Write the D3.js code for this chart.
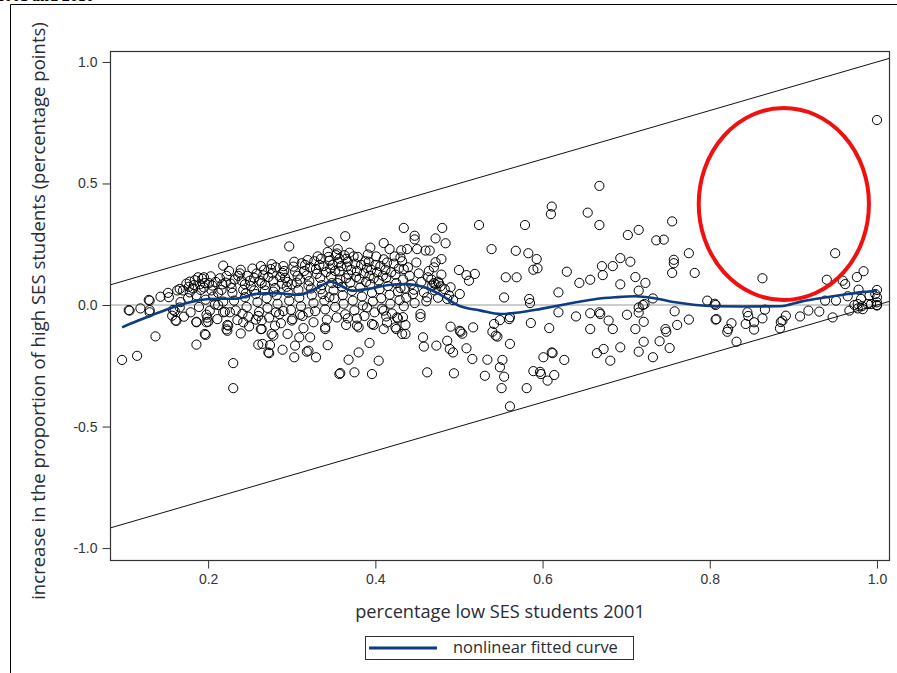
<!DOCTYPE html>
<html>
<head>
<meta charset="utf-8">
<script src="https://cdn.jsdelivr.net/npm/d3@7"></script>
<style>
    body { margin: 0; background: #fff; }
    svg { display: block; }
</style>
</head>
<body>
<div id="chart"></div>
<script>
// tick labels
var xTicks = [0.2, 0.4, 0.6, 0.8, 1.0];
var yTicks = [-1.0, -0.5, 0.0, 0.5, 1.0];

// nonlinear fitted curve
var curveX = [0.097, 0.115, 0.131, 0.154, 0.178, 0.202, 0.234, 0.256, 0.28, 0.308, 0.328, 0.347, 0.36, 0.372,
    0.396, 0.416, 0.436, 0.458, 0.478, 0.5, 0.526, 0.55, 0.574, 0.598, 0.62, 0.64, 0.664, 0.687, 0.711, 0.735,
    0.759, 0.783, 0.807, 0.84, 0.885, 0.909, 0.94, 0.965, 0.985, 1.0];
var curveY = [-0.092, -0.066, -0.044, -0.014, 0.011, 0.025, 0.026, 0.045, 0.049, 0.042, 0.066, 0.096, 0.077, 0.059,
    0.069, 0.082, 0.086, 0.074, 0.042, -0.003, -0.023, -0.037, -0.03, -0.016, -0.002, 0.011, 0.025, 0.032, 0.036, 0.027,
    0.011, 0.0, -0.005, -0.006, -0.005, 0.014, 0.032, 0.045, 0.054, 0.059];

// schools: [percentage low SES 2001, increase in high SES share]
var schools = [
    // right side
    [1.0, 0.761], [0.668, 0.49], [0.611, 0.405], [0.610, 0.374], [0.654, 0.38], [0.668, 0.329], [0.579, 0.329],
    [0.524, 0.329], [0.755, 0.344], [0.702, 0.288], [0.715, 0.309], [0.736, 0.266], [0.745, 0.269], [0.539, 0.23],
    [0.568, 0.223], [0.583, 0.213], [0.593, 0.189], [0.594, 0.151], [0.589, 0.145], [0.629, 0.137], [0.556, 0.114],
    [0.569, 0.114], [0.671, 0.16], [0.684, 0.16], [0.693, 0.193], [0.705, 0.178], [0.672, 0.123], [0.644, 0.091],
    [0.657, 0.104], [0.693, 0.085], [0.711, 0.115], [0.723, 0.091], [0.715, 0.059], [0.757, 0.186], [0.757, 0.172],
    [0.755, 0.132], [0.775, 0.213], [0.782, 0.132], [0.619, 0.052], [0.554, 0.031], [0.584, 0.025], [0.585, 0.008],
    [0.732, 0.027], [0.722, 0.004], [0.797, 0.018], [0.807, 0.0], [0.806, 0.005], [0.863, 0.11], [0.950, 0.213],
    [0.940, 0.104], [0.959, 0.10], [0.962, 0.086], [0.976, 0.115], [0.984, 0.139], [0.978, 0.063], [1.0, 0.062],
    [0.938, 0.018], [0.951, 0.018], [0.965, 0.036], [0.981, 0.025], [0.991, 0.038], [1.0, 0.032], [1.0, 0.011],
    [1.0, 0.0], [0.998, 0.045], [0.989, 0.004], [0.977, 0.004],
    [0.967, -0.023], [0.977, -0.014], [0.982, -0.005], [0.993, 0.004], [1.0, -0.002], [0.983, -0.017], [0.973, 0.0],
    [0.947, -0.051], [0.931, -0.027], [0.918, -0.023], [0.908, -0.047], [0.891, -0.044], [0.887, -0.064],
    [0.885, -0.07], [0.884, -0.096], [0.863, -0.055], [0.866, -0.019], [0.853, -0.071], [0.853, -0.101],
    [0.845, -0.03], [0.846, -0.045], [0.843, -0.078], [0.832, -0.151], [0.826, -0.075], [0.822, -0.099],
    [0.821, -0.11], [0.807, -0.06], [0.808, -0.058], [0.775, -0.06], [0.761, -0.082], [0.758, -0.026],
    [0.752, -0.177], [0.747, -0.099], [0.748, -0.11], [0.74, -0.149], [0.732, -0.215], [0.721, -0.151],
    [0.721, -0.069], [0.715, -0.192], [0.711, -0.099], [0.715, -0.031], [0.715, -0.01], [0.72, 0.0], [0.701, -0.04],
    [0.693, -0.174], [0.684, -0.099], [0.681, -0.229], [0.679, -0.064], [0.673, -0.181], [0.668, -0.03],
    [0.669, -0.037], [0.665, -0.198], [0.657, -0.099], [0.657, -0.034], [0.64, -0.047], [0.626, -0.226],
    [0.619, -0.03], [0.614, -0.288], [0.612, -0.198], [0.608, -0.095], [0.606, -0.311], [0.601, -0.215],
    [0.598, -0.284], [0.589, -0.272], [0.597, -0.275], [0.586, -0.074], [0.581, -0.342], [0.561, -0.417],
    [0.561, -0.16], [0.561, -0.05], [0.554, -0.295], [0.552, -0.226], [0.551, -0.342], [0.549, -0.256],
    [0.534, -0.225], [0.531, -0.291], [0.542, -0.078], [0.544, -0.126], [0.546, -0.13], [0.549, -0.062],
    [0.54, -0.11], [0.611, -0.195], [0.56, -0.058],
    // middle
    [0.48, 0.317], [0.434, 0.317], [0.447, 0.285], [0.447, 0.27], [0.472, 0.274], [0.484, 0.254], [0.438, 0.23],
    [0.45, 0.23], [0.46, 0.224], [0.465, 0.224], [0.43, 0.196], [0.479, 0.189], [0.472, 0.176], [0.47, 0.155],
    [0.434, 0.148], [0.432, 0.18], [0.5, 0.144], [0.509, 0.123], [0.519, 0.128], [0.512, 0.1], [0.463, 0.114],
    [0.475, 0.096], [0.478, 0.077], [0.49, 0.073], [0.501, 0.045], [0.462, 0.032], [0.446, 0.063], [0.43, 0.07],
    [0.434, -0.005], [0.486, 0.025], [0.454, -0.037], [0.454, -0.05], [0.436, -0.082], [0.436, -0.119],
    [0.49, -0.089], [0.502, -0.11], [0.504, -0.118], [0.517, -0.092], [0.457, -0.133], [0.458, -0.171],
    [0.473, -0.167], [0.486, -0.147], [0.489, -0.181], [0.493, -0.195], [0.509, -0.178], [0.516, -0.222],
    [0.462, -0.277], [0.494, -0.281], [0.47, 0.09], [0.472, 0.085], [0.468, 0.08], [0.476, 0.09],
    // left, lower
    [0.097, -0.226], [0.115, -0.209], [0.137, -0.129], [0.105, -0.021], [0.119, -0.014], [0.13, -0.021],
    [0.129, 0.021], [0.143, 0.034], [0.153, 0.032], [0.157, -0.044], [0.162, -0.065], [0.16, -0.025],
    [0.166, -0.01], [0.166, 0.066], [0.178, 0.052], [0.178, 0.096], [0.188, 0.114], [0.195, 0.114],
    [0.186, -0.069], [0.2, -0.069], [0.196, -0.119], [0.186, -0.163], [0.218, 0.162], [0.224, -0.085],
    [0.222, -0.1], [0.239, -0.117], [0.23, -0.239], [0.23, -0.342], [0.26, -0.163], [0.197, -0.123],
    [0.223, -0.106], [0.264, -0.099], [0.265, -0.16], [0.276, -0.119], [0.273, -0.198], [0.289, -0.184],
    [0.295, -0.119], [0.303, -0.215], [0.304, -0.167], [0.309, -0.133], [0.32, -0.188], [0.322, -0.133],
    [0.329, -0.215], [0.34, -0.099], [0.343, -0.165], [0.357, -0.284], [0.368, -0.225], [0.375, -0.277],
    [0.38, -0.195], [0.393, -0.156], [0.396, -0.284], [0.404, -0.229], [0.41, -0.099], [0.425, -0.099],
    [0.501, -0.106], [0.433, -0.05], [0.427, -0.055], [0.414, -0.072], [0.41, -0.023], [0.396, -0.078],
    [0.39, -0.01], [0.378, -0.055], [0.378, -0.085], [0.367, -0.055], [0.354, -0.051], [0.326, -0.071],
    [0.32, -0.03], [0.31, -0.04], [0.3, -0.064], [0.29, -0.025], [0.281, -0.03], [0.264, -0.064], [0.26, -0.045],
    [0.242, -0.071], [0.241, -0.036], [0.226, -0.03], [0.218, -0.03], [0.212, 0.0], [0.202, -0.023],
    [0.198, -0.04], [0.186, -0.071], [0.198, -0.071], [0.161, -0.064], [0.106, -0.023], [0.13, 0.018],
    [0.13, -0.03], [0.297, 0.241], [0.364, 0.283], [0.345, 0.26], [0.41, 0.255], [0.394, 0.236], [0.417, 0.23],
    [0.272, -0.195], [0.274, -0.165], [0.318, -0.192], [0.34, -0.092], [0.365, -0.082], [0.358, -0.28],
    [0.398, -0.082], [0.38, -0.092], [0.413, -0.047], [0.424, -0.092], [0.426, -0.051], [0.432, -0.119],
    [0.263, -0.099], [0.278, -0.126], [0.28, -0.085], [0.257, -0.06],
    // dense core
    [0.152, 0.05], [0.158, -0.02], [0.163, 0.06], [0.167, 0.012], [0.171, -0.048], [0.174, 0.088], [0.176, 0.028],
    [0.179, -0.03], [0.182, 0.068], [0.184, 0.102], [0.186, 0.04], [0.189, -0.008], [0.191, 0.062], [0.193, 0.108],
    [0.195, 0.072], [0.197, 0.022], [0.199, -0.052], [0.201, 0.09], [0.203, 0.118], [0.205, 0.08], [0.206, 0.035],
    [0.208, 0.002], [0.211, -0.058], [0.212, 0.05], [0.214, 0.11], [0.216, 0.062], [0.218, 0.014], [0.22, -0.028],
    [0.221, 0.092], [0.223, -0.082], [0.225, 0.14], [0.227, 0.088], [0.229, 0.05], [0.231, 0.018], [0.233, -0.022],
    [0.235, -0.062], [0.236, 0.12], [0.238, 0.13], [0.24, 0.1], [0.242, 0.062], [0.244, 0.032], [0.246, -0.008],
    [0.248, -0.048], [0.249, -0.088], [0.251, 0.078], [0.253, 0.15], [0.255, 0.112], [0.257, 0.045], [0.259, 0.012],
    [0.261, -0.028], [0.263, 0.16], [0.264, 0.09], [0.266, 0.122], [0.268, 0.06], [0.27, 0.028], [0.271, -0.012],
    [0.273, -0.052], [0.275, 0.148], [0.276, 0.168], [0.278, 0.1], [0.28, 0.07], [0.282, 0.04], [0.283, 0.005],
    [0.285, -0.038], [0.287, -0.075], [0.289, 0.132], [0.29, 0.16], [0.292, 0.112], [0.294, 0.075], [0.296, 0.05],
    [0.297, 0.018], [0.299, -0.02], [0.301, -0.058], [0.303, 0.178], [0.304, 0.138], [0.306, 0.092], [0.308, 0.062],
    [0.309, 0.03], [0.311, -0.005], [0.313, -0.045], [0.314, -0.095], [0.316, 0.165], [0.318, 0.122], [0.319, 0.185],
    [0.321, 0.098], [0.323, 0.068], [0.324, 0.04], [0.326, 0.008], [0.328, -0.025], [0.329, 0.148], [0.331, 0.2],
    [0.333, 0.165], [0.334, 0.112], [0.336, 0.082], [0.337, 0.045], [0.339, 0.018], [0.34, -0.018], [0.342, -0.06],
    [0.343, 0.218], [0.345, 0.182], [0.346, 0.15], [0.347, 0.118], [0.348, 0.09], [0.35, 0.06], [0.351, 0.028],
    [0.352, -0.008], [0.353, 0.205], [0.355, 0.23], [0.356, 0.175], [0.357, 0.138], [0.358, 0.105], [0.36, 0.075],
    [0.361, 0.04], [0.362, 0.005], [0.364, -0.038], [0.365, 0.19], [0.366, 0.158], [0.368, 0.125], [0.369, 0.215],
    [0.37, 0.092], [0.372, 0.058], [0.373, 0.018], [0.375, -0.022], [0.376, 0.17], [0.378, 0.14], [0.379, 0.198],
    [0.381, 0.108], [0.382, 0.072], [0.384, 0.035], [0.385, -0.002], [0.387, -0.045], [0.388, 0.18], [0.39, 0.152],
    [0.391, 0.208], [0.393, 0.12], [0.394, 0.085], [0.396, 0.05], [0.397, 0.015], [0.399, -0.03], [0.4, 0.165],
    [0.402, 0.135], [0.404, 0.1], [0.405, 0.065], [0.407, 0.028], [0.408, -0.015], [0.41, 0.188], [0.412, 0.145],
    [0.413, 0.112], [0.415, 0.078], [0.417, 0.042], [0.418, 0.005], [0.42, -0.035], [0.422, 0.17], [0.424, 0.125],
    [0.425, 0.09], [0.427, 0.055], [0.429, 0.02], [0.431, 0.225], [0.433, 0.105], [0.435, 0.068], [0.437, 0.03],
    [0.439, 0.155], [0.441, 0.12], [0.443, 0.085], [0.445, 0.045], [0.447, 0.008], [0.449, 0.175], [0.452, 0.13],
    [0.455, 0.095], [0.458, 0.052], [0.461, 0.015], [0.464, 0.14], [0.467, 0.105], [0.471, 0.06], [0.475, 0.03],
    [0.479, 0.125], [0.483, 0.065], [0.488, 0.04], [0.493, 0.02],
    [0.302, 0.158], [0.307, 0.12], [0.312, 0.172], [0.315, 0.14], [0.322, 0.155], [0.327, 0.18], [0.33, 0.128],
    [0.335, 0.19], [0.338, 0.16], [0.341, 0.135], [0.344, 0.198], [0.349, 0.165], [0.352, 0.14], [0.354, 0.212],
    [0.357, 0.19], [0.359, 0.16], [0.363, 0.205], [0.367, 0.178], [0.371, 0.145], [0.374, 0.2], [0.377, 0.115],
    [0.383, 0.165], [0.386, 0.13], [0.389, 0.095], [0.392, 0.178], [0.395, 0.145], [0.398, 0.11], [0.401, 0.2],
    [0.406, 0.16], [0.409, 0.12], [0.414, 0.175], [0.419, 0.135], [0.423, 0.2], [0.428, 0.15], [0.258, 0.13],
    [0.262, 0.1], [0.267, 0.145], [0.272, 0.115], [0.277, 0.13], [0.281, 0.155], [0.286, 0.115], [0.291, 0.14],
    [0.295, 0.095], [0.244, 0.085], [0.247, 0.12], [0.25, 0.1], [0.239, 0.145], [0.232, 0.105], [0.228, 0.07],
    [0.222, 0.12], [0.217, 0.085], [0.209, 0.095], [0.204, 0.06], [0.196, 0.09], [0.19, 0.085], [0.183, 0.082],
    [0.177, 0.075], [0.17, 0.06], [0.345, 0.032], [0.355, 0.09], [0.365, 0.11], [0.335, 0.065], [0.32, 0.08],
    [0.31, 0.105], [0.3, 0.085], [0.288, 0.088], [0.278, 0.055], [0.268, 0.082], [0.255, 0.06], [0.245, 0.048]
];

(function () {
    'use strict';
    var width = 897,
        height = 673,
        plot = { left: 110, top: 51, right: 889, bottom: 560 },
        curveColor = '#0d3b84',
        labelFont = '"Open Sans", sans-serif',
        labelColor = '#2b2b35';

    var svg = d3.select('#chart')
        .append('svg')
        .attr('width', width)
        .attr('height', height);

    var x = d3.scaleLinear().domain([0.0826, 1.0144]).range([plot.left, plot.right]);
    var y = d3.scaleLinear().domain([-1.049, 1.045]).range([plot.bottom, plot.top]);

    // shrink/grow a label so it spans the width seen in the original
    function fitText(sel, size, target) {
        sel.style('font-size', size + 'px');
        var w = sel.node().getComputedTextLength();
        if (w > 0) sel.style('font-size', (size * target / w).toFixed(2) + 'px');
        return sel;
    }

    // outer frame + title running off the top edge
    svg.append('text')
        .attr('x', -4).attr('y', 1)
        .style('font', 'bold 16px "Liberation Serif", serif')
        .text('2001 and 2010');
    svg.append('path')
        .attr('d', 'M10.5,' + height + 'V4.5H' + width)
        .attr('fill', 'none')
        .attr('stroke', '#000');

    svg.append('clipPath').attr('id', 'plot-clip')
        .append('rect')
        .attr('x', plot.left).attr('y', plot.top)
        .attr('width', plot.right - plot.left).attr('height', plot.bottom - plot.top);

    var g = svg.append('g').attr('clip-path', 'url(#plot-clip)');

    // zero reference line
    g.append('line')
        .attr('x1', plot.left).attr('x2', plot.right)
        .attr('y1', y(0)).attr('y2', y(0))
        .attr('stroke', '#9a9a9a')
        .attr('stroke-width', 1);

    // bounds y = x and y = x - 1
    [0, -1].forEach(function (off) {
        g.append('line')
            .attr('x1', x(x.domain()[0])).attr('y1', y(x.domain()[0] + off))
            .attr('x2', x(x.domain()[1])).attr('y2', y(x.domain()[1] + off))
            .attr('stroke', '#111')
            .attr('stroke-width', 1);
    });

    g.append('g')
        .selectAll('circle')
        .data(schools)
        .enter().append('circle')
        .attr('cx', function (d) { return x(d[0]); })
        .attr('cy', function (d) { return y(d[1]); })
        .attr('r', 4.6)
        .attr('fill', 'none')
        .attr('stroke', '#000')
        .attr('stroke-width', 1);

    var line = d3.line()
        .x(function (d, i) { return x(curveX[i]); })
        .y(function (d, i) { return y(curveY[i]); })
        .curve(d3.curveMonotoneX);

    g.append('path')
        .datum(curveX)
        .attr('d', line)
        .attr('fill', 'none')
        .attr('stroke', curveColor)
        .attr('stroke-width', 2.6);

    // red highlight ellipse
    svg.append('ellipse')
        .attr('cx', x(0.8886)).attr('cy', y(0.4156))
        .attr('rx', x(0.8886 + 0.1018) - x(0.8886))
        .attr('ry', y(0.4156 - 0.395) - y(0.4156))
        .attr('fill', 'none')
        .attr('stroke', '#f01010')
        .attr('stroke-width', 4);

    // frame
    svg.append('rect')
        .attr('x', plot.left + 0.5).attr('y', plot.top + 0.5)
        .attr('width', plot.right - plot.left).attr('height', plot.bottom - plot.top)
        .attr('fill', 'none')
        .attr('stroke', '#333')
        .attr('stroke-width', 1.2);

    var fmt = function (d) { return d.toFixed(1); };

    var xAxis = svg.append('g')
        .attr('transform', 'translate(0,' + (plot.bottom + 0.5) + ')')
        .call(d3.axisBottom(x).tickValues(xTicks).tickFormat(fmt).tickSize(8).tickPadding(6));
    var yAxis = svg.append('g')
        .attr('transform', 'translate(' + (plot.left + 0.5) + ',0)')
        .call(d3.axisLeft(y).tickValues(yTicks).tickFormat(fmt).tickSize(8).tickPadding(5));

    [xAxis, yAxis].forEach(function (a) {
        a.select('.domain').remove();
        a.selectAll('line').attr('stroke', '#333');
        a.selectAll('text')
            .attr('fill', '#333')
            .style('font', '14px "Liberation Sans", Arial, sans-serif');
    });

    var xLabel = svg.append('text')
        .attr('x', 500)
        .attr('y', 618)
        .attr('text-anchor', 'middle')
        .attr('fill', labelColor)
        .style('font-family', labelFont)
        .text('percentage low SES students 2001');
    fitText(xLabel, 16, 290);

    var yLabel = svg.append('text')
        .attr('transform', 'translate(45,311) rotate(-90)')
        .attr('text-anchor', 'middle')
        .attr('fill', labelColor)
        .style('font-family', labelFont)
        .text('increase in the proportion of high SES students (percentage points)');
    fitText(yLabel, 16, 578);

    // legend
    var legend = svg.append('g');
    legend.append('rect')
        .attr('x', 365.5).attr('y', 636.5)
        .attr('width', 268).attr('height', 23)
        .attr('fill', '#fff')
        .attr('stroke', '#333');
    legend.append('line')
        .attr('x1', 369).attr('x2', 437)
        .attr('y1', 648).attr('y2', 648)
        .attr('stroke', curveColor)
        .attr('stroke-width', 3);
    var legendText = legend.append('text')
        .attr('x', 453).attr('y', 653)
        .attr('fill', labelColor)
        .style('font-family', labelFont)
        .text('nonlinear fitted curve');
    fitText(legendText, 14, 165);
})();
</script>
</body>
</html>
